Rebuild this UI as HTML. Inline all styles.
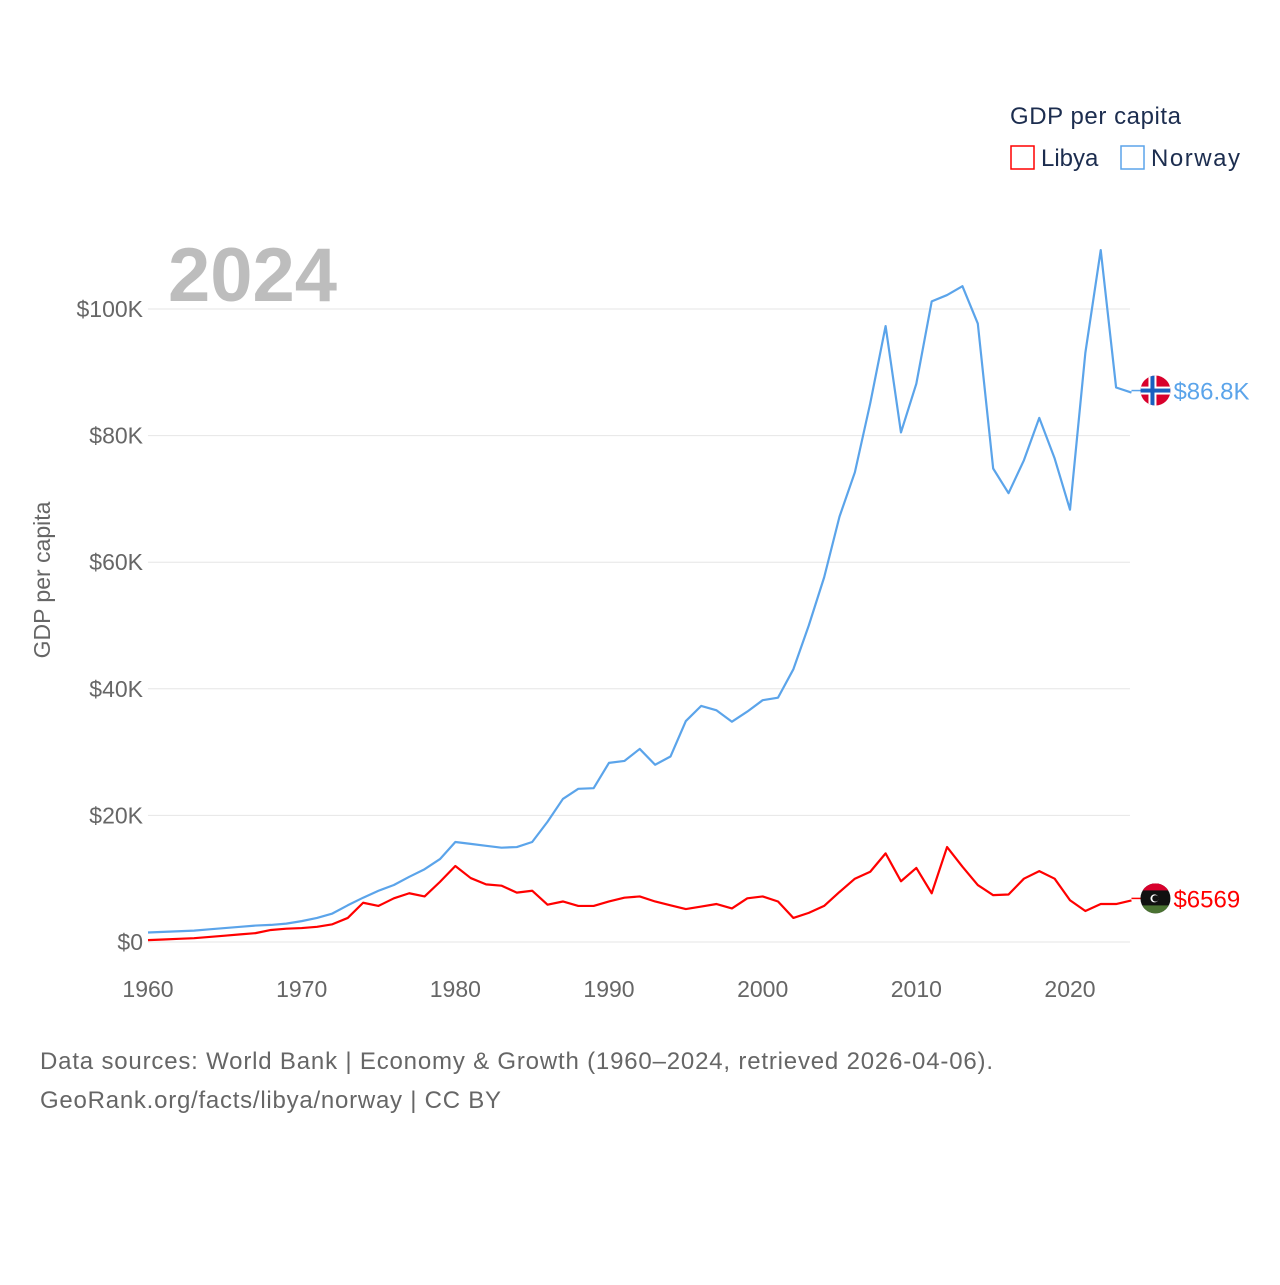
<!DOCTYPE html>
<html><head><meta charset="utf-8"><style>
body{margin:0;background:#fff;}
svg text{font-family:"Liberation Sans",sans-serif;}
</style></head><body>
<svg width="1280" height="1280">
<g id="grid"></g>
<g id="axes"></g>
<text x="168" y="301" font-size="76" font-weight="bold" fill="#bdbdbd">2024</text>
<text transform="translate(50,580) rotate(-90)" text-anchor="middle" font-size="23" fill="#666">GDP per capita</text>
<g>
<text x="1010" y="124" font-size="24" fill="#1c2d4f" textLength="171">GDP per capita</text>
<g><rect x="1011" y="146" width="23" height="23" fill="none" stroke="#f00" stroke-width="1.5"/><text x="1041" y="166" font-size="24" fill="#1c2d4f">Libya</text></g>
<g><rect x="1121" y="146" width="23" height="23" fill="none" stroke="#5ba4ea" stroke-width="1.5"/><text x="1151" y="166" font-size="24" fill="#1c2d4f" textLength="89">Norway</text></g>
</g>
<g id="series"></g>
<text x="40" y="1069" font-size="24" fill="#666" textLength="953">Data sources: World Bank | Economy &amp; Growth (1960–2024, retrieved 2026-04-06).</text>
<text x="40" y="1108" font-size="24" fill="#666" textLength="461">GeoRank.org/facts/libya/norway | CC BY</text>
</svg>
<script>
const years=[];for(let y=1960;y<=2024;y++)years.push(y);
const norway=[1.5,1.6,1.7,1.8,2.0,2.2,2.4,2.6,2.7,2.9,3.3,3.8,4.5,5.8,7.0,8.1,9.0,10.3,11.5,13.1,15.8,15.5,15.2,14.9,15.0,15.8,19.0,22.6,24.2,24.3,28.3,28.6,30.5,28.0,29.3,34.9,37.3,36.6,34.8,36.4,38.2,38.6,43.1,50.0,57.6,67.2,74.2,85.1,97.3,80.5,88.2,101.2,102.2,103.6,97.7,74.8,70.9,76.1,82.8,76.4,68.3,93.1,109.3,87.6,86.8];
const libya=[0.3,0.4,0.5,0.6,0.8,1.0,1.2,1.4,1.9,2.1,2.2,2.4,2.8,3.8,6.2,5.7,6.9,7.7,7.2,9.5,12.0,10.1,9.1,8.9,7.8,8.1,5.9,6.4,5.7,5.7,6.4,7.0,7.2,6.4,5.8,5.2,5.6,6.0,5.3,6.9,7.2,6.4,3.8,4.6,5.7,7.9,10.0,11.1,14.0,9.6,11.7,7.7,15.0,11.9,9.0,7.4,7.5,10.0,11.2,10.0,6.6,4.9,6.0,6.0,6.57];
const yTicks=[0,20,40,60,80,100];
const yTickLabels=["$0","$20K","$40K","$60K","$80K","$100K"];
const xTicks=[1960,1970,1980,1990,2000,2010,2020];
const NS="http://www.w3.org/2000/svg";
const X=y=>148+(y-1960)*(922/60);
const Y=v=>942-v*6.33;
function mk(t,a,p){const e=document.createElementNS(NS,t);for(const k in a)e.setAttribute(k,a[k]);p.appendChild(e);return e;}
const grid=document.getElementById('grid'),axes=document.getElementById('axes'),ser=document.getElementById('series');
yTicks.forEach((v,i)=>{
 const l=mk('line',{x1:148,x2:1130,y1:Y(v),y2:Y(v),stroke:'#e6e6e6','stroke-width':1},grid);
 
 
 const t=mk('text',{x:143,y:Y(v)+8,'text-anchor':'end','font-size':23,fill:'#666'},axes);
 t.textContent=yTickLabels[i];
 
 
});
xTicks.forEach(y=>{
 const t=mk('text',{x:X(y),y:997,'text-anchor':'middle','font-size':23,fill:'#666'},axes);
 t.textContent=y;
 
 
});
function line(vals,col,name){
 const p=mk('polyline',{points:vals.map((v,i)=>X(years[i])+','+Y(v)).join(' '),fill:'none',stroke:col,'stroke-width':2.2,'stroke-linejoin':'round'},ser);
 
 
}
line(norway,'#5ba4ea','norway-line');
line(libya,'#ff0000','libya-line');
function endLabel(v,col,name,txt,flag){
 const y=Y(v)-2,x=X(2024);
 mk('line',{x1:x,x2:x+10,y1:y,y2:y,stroke:col,'stroke-width':1.5},ser);
 const g=mk('g',{},ser);
 
 
 const cx=x+24;
 const cp=mk('clipPath',{id:'c'+name},g);mk('circle',{cx:cx,cy:y,r:15},cp);
 const gg=mk('g',{'clip-path':'url(#c'+name+')'},g);
 if(flag==='no'){
  mk('rect',{x:cx-15,y:y-15,width:30,height:30,fill:'#d8002c'},gg);
  mk('rect',{x:cx-15,y:y-4,width:30,height:8,fill:'#fff'},gg);
  mk('rect',{x:cx-7,y:y-15,width:8,height:30,fill:'#fff'},gg);
  mk('rect',{x:cx-15,y:y-2,width:30,height:4,fill:'#1a5fbf'},gg);
  mk('rect',{x:cx-5,y:y-15,width:4,height:30,fill:'#1a5fbf'},gg);
 }else{
  mk('rect',{x:cx-15,y:y-15,width:30,height:30,fill:'#111'},gg);
  mk('rect',{x:cx-15,y:y-15,width:30,height:7,fill:'#d8002c'},gg);
  mk('rect',{x:cx-15,y:y+7,width:30,height:8,fill:'#4a7232'},gg);
  mk('circle',{cx:cx-1,cy:y,r:4,fill:'#fff'},gg);
  mk('circle',{cx:cx,cy:y,r:3.2,fill:'#111'},gg);
 }
 const t=mk('text',{x:x+42,y:y+9,'font-size':24,fill:col},ser);
 t.textContent=txt;
 
 
}
endLabel(norway[norway.length-1],'#5ba4ea','norway','$86.8K','no');
endLabel(libya[libya.length-1],'#ff0000','libya','$6569','ly');
</script>
</body></html>
